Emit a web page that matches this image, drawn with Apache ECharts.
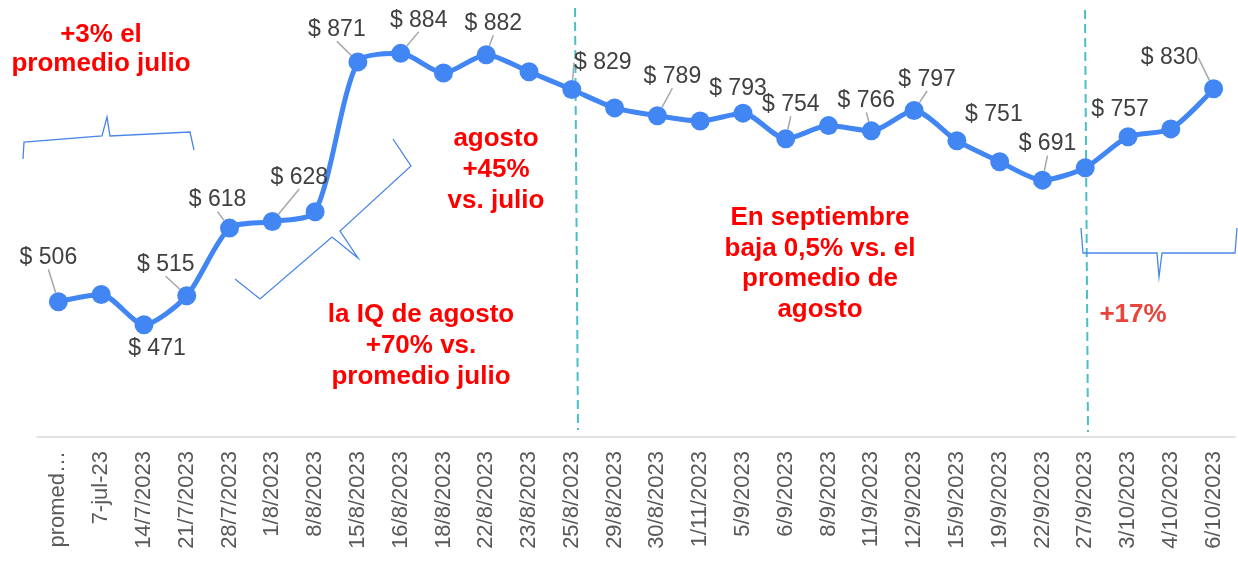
<html>
<head>
<meta http-equiv="Content-Type" content="text/html; charset=utf-8" />
<title>Precio</title>
<style>
  html, body { margin: 0; padding: 0; background: #fff; }
  #chart { width: 1238px; height: 561px; }
</style>
</head>
<body>
<div id="chart"></div>
<script src="https://cdn.jsdelivr.net/npm/echarts@6/dist/echarts.min.js"></script>
<script>
// datos
var categories = ['promed…', '7-jul-23', '14/7/2023', '21/7/2023', '28/7/2023', '1/8/2023', '8/8/2023',
  '15/8/2023', '16/8/2023', '18/8/2023', '22/8/2023', '23/8/2023', '25/8/2023', '29/8/2023',
  '30/8/2023', '1/11/2023', '5/9/2023', '6/9/2023', '8/9/2023', '11/9/2023', '12/9/2023',
  '15/9/2023', '19/9/2023', '22/9/2023', '27/9/2023', '3/10/2023', '4/10/2023', '6/10/2023'];
var prices = [506, 517, 471, 515, 618, 628, 643, 871, 884, 854, 882, 856, 829, 801,
  789, 781, 793, 754, 774, 766, 797, 751, 719, 691, 710, 757, 769, 830];
// puntos con etiqueta de valor
var labelled = [0, 2, 3, 4, 5, 7, 8, 10, 12, 14, 16, 17, 19, 20, 21, 23, 25, 27];

// desplazamiento de cada etiqueta [dx, dy, linea guia]
var labelPos = {
  0: [-10, -44, 1], 2: [13, 24, 0], 3: [-21, -31, 1], 4: [-12, -28, 1], 5: [27, -44, 1],
  7: [-21, -32, 1], 8: [18, -33, 1], 10: [7, -31, 1], 12: [31, -27, 1], 14: [15, -39, 1],
  16: [-5, -24, 0], 17: [5, -34, 1], 19: [-5, -30, 1], 20: [13, -31, 1], 21: [37, -26, 0],
  23: [5, -36, 1], 25: [-8, -27, 0], 27: [-44, -31, 1]
};

var seriesData = [];
for (var i = 0; i < prices.length; i++) {
  var show = labelled.indexOf(i) >= 0;
  seriesData.push({
    value: prices[i],
    label: { show: show },
    labelLine: { show: show && labelPos[i][2] === 1 }
  });
}

var red = '#ff0000';
var redFont = 'bold 26px "Liberation Sans", Arial, sans-serif';
var braceStyle = { stroke: '#4a86e8', lineWidth: 1.3, fill: null };
var dashStyle = { stroke: '#4bbfc8', lineWidth: 2, lineDash: [9, 5] };

var myChart = echarts.init(document.getElementById('chart'));
var option = {
  animation: false,
  backgroundColor: '#ffffff',
  grid: { left: 37, right: 3, top: 10, bottom: 124 },
  xAxis: {
    type: 'category',
    data: categories,
    boundaryGap: true,
    axisLine: { lineStyle: { color: '#d9d9d9', width: 1.5 } },
    axisTick: { show: false },
    axisLabel: {
      interval: 0,
      rotate: 90,
      margin: 14,
      color: '#595959',
      fontSize: 22,
      fontFamily: '"Liberation Sans", Arial, sans-serif'
    }
  },
  yAxis: {
    type: 'value',
    min: 300,
    max: 950,
    show: false,
    splitLine: { show: false }
  },
  series: [{
    type: 'line',
    data: seriesData,
    smooth: 0.25,
    symbol: 'circle',
    symbolSize: 19,
    lineStyle: { color: '#4286f4', width: 5 },
    itemStyle: { color: '#4286f4' },
    label: {
      position: 'inside',
      formatter: function (p) { return '$ ' + p.value; },
      color: '#404040',
      fontSize: 23,
      fontFamily: '"Liberation Sans", Arial, sans-serif'
    },
    labelLine: {
      lineStyle: { color: '#a6a6a6', width: 1.5 }
    },
    labelLayout: function (params) {
      var o = labelPos[params.dataIndex];
      if (!o) return {};
      return { dx: o[0], dy: o[1] };
    },
    z: 3
  }],
  graphic: [
    // lineas de corte
    { type: 'line', shape: { x1: 575, y1: 8, x2: 578, y2: 430 }, style: dashStyle },
    { type: 'line', shape: { x1: 1085, y1: 10, x2: 1088, y2: 432 }, style: dashStyle },
    // llaves
    { type: 'polyline', shape: { points: [[23, 159], [24, 142], [102, 136], [107, 117], [110, 136], [190, 132], [194, 150]] }, style: braceStyle },
    { type: 'polyline', shape: { points: [[235, 279], [260, 299], [332, 237], [358, 258], [340, 231], [411, 166], [393, 139]] }, style: braceStyle },
    { type: 'polyline', shape: { points: [[1081, 228], [1083, 253], [1157, 253], [1159, 277], [1162, 253], [1235, 253], [1237, 228]] }, style: braceStyle },
    // textos
    { type: 'text', style: { text: '+3% el\npromedio julio', x: 101, y: 49, font: redFont, fill: red, align: 'center', verticalAlign: 'middle', lineHeight: 29 } },
    { type: 'text', style: { text: 'agosto\n+45%\nvs. julio', x: 496, y: 170, font: redFont, fill: red, align: 'center', verticalAlign: 'middle', lineHeight: 31 } },
    { type: 'text', style: { text: 'la IQ de agosto\n+70% vs.\npromedio julio', x: 421, y: 346, font: redFont, fill: red, align: 'center', verticalAlign: 'middle', lineHeight: 31 } },
    { type: 'text', style: { text: 'En septiembre\nbaja 0,5% vs. el\npromedio de\nagosto', x: 820, y: 264, font: redFont, fill: red, align: 'center', verticalAlign: 'middle', lineHeight: 30.5 } },
    { type: 'text', style: { text: '+17%', x: 1133, y: 315, font: redFont, fill: '#e8453c', align: 'center', verticalAlign: 'middle' } }
  ]
};
myChart.setOption(option);
</script>
</body>
</html>
